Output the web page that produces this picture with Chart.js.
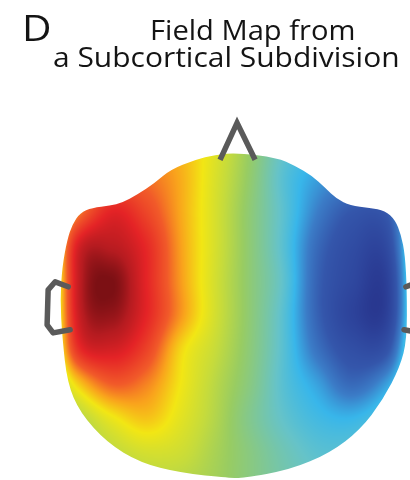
<!DOCTYPE html>
<html>
<head>
<meta charset="utf-8">
<script src="https://cdn.jsdelivr.net/npm/chart.js@4.4.1/dist/chart.umd.min.js"></script>
<style>
  html, body { margin: 0; padding: 0; background: #ffffff; }
  #wrap { position: relative; width: 410px; height: 480px; overflow: hidden; }
  #map { position: absolute; left: 0; top: 0; }
  .txt { position: absolute; white-space: nowrap; font-family: "Open Sans", "Noto Sans", sans-serif; color: #141414; line-height: 1; transform-origin: 0 0; }
  #panel { left: 22px; top: 8px; font-size: 37px; transform: scaleX(1.1); }
  #t1 { left: 150px; top: 15px; font-size: 28px; font-weight: 500; transform: scaleX(1.04); }
  #t2 { left: 53px; top: 42px; font-size: 28px; font-weight: 500; transform: scaleX(1.07); }
</style>
</head>
<body>
<div id="wrap">
  <canvas id="map" width="410" height="480"></canvas>
  <div class="txt" id="panel">D</div>
  <div class="txt" id="t1">Field Map from</div>
  <div class="txt" id="t2">a Subcortical Subdivision</div>
</div>
<script>
// Sensor grid (head units: 1 = head radius), columns left→right, rows top→bottom
const gridU = [-1.1, -0.9, -0.7, -0.5, -0.3, -0.1, 0.1, 0.3, 0.5, 0.7, 0.9, 1.1];
const gridV = [1.0, 0.8, 0.6, 0.4, 0.2, 0.0, -0.2, -0.4, -0.6, -0.8, -1.0];

// Normalised field values along each grid row (+ = red, − = blue)
const fieldV100 = [0.0, 0.10, 0.30, 0.35, 0.30, 0.14, -0.08, -0.32, -0.40, -0.45, -0.40, -0.25];
const fieldV080 = [0.0, 0.20, 0.45, 0.45, 0.33, 0.12, -0.10, -0.36, -0.50, -0.55, -0.50, -0.30];
const fieldV060 = [-0.10, 0.40, 0.72, 0.58, 0.34, 0.11, -0.12, -0.35, -0.58, -0.72, -0.70, -0.20];
const fieldV040 = [-0.30, 0.75, 0.86, 0.70, 0.36, 0.11, -0.12, -0.36, -0.65, -0.80, -0.82, -0.10];
const fieldV020 = [-0.35, 0.80, 1.00, 0.72, 0.37, 0.10, -0.12, -0.34, -0.68, -0.84, -0.90, -0.10];
const fieldV000 = [-0.35, 0.78, 0.95, 0.72, 0.38, 0.10, -0.12, -0.36, -0.68, -0.88, -0.90, -0.10];
const fieldVm020 = [-0.30, 0.65, 0.78, 0.60, 0.24, 0.06, -0.13, -0.36, -0.62, -0.78, -0.75, -0.10];
const fieldVm040 = [-0.20, 0.25, 0.50, 0.42, 0.20, 0.02, -0.15, -0.36, -0.50, -0.65, -0.50, -0.15];
const fieldVm060 = [-0.10, 0.00, 0.18, 0.28, 0.15, 0.00, -0.18, -0.33, -0.42, -0.45, -0.35, -0.20];
const fieldVm080 = [-0.10, -0.05, 0.03, 0.10, 0.08, -0.03, -0.15, -0.27, -0.35, -0.35, -0.30, -0.20];
const fieldVm100 = [-0.10, -0.10, -0.05, 0.00, 0.00, -0.05, -0.15, -0.25, -0.30, -0.30, -0.25, -0.20];
const fieldRows = [fieldV100, fieldV080, fieldV060, fieldV040, fieldV020, fieldV000,
                   fieldVm020, fieldVm040, fieldVm060, fieldVm080, fieldVm100];

// Scalp outline, nose and ears (head units)
const headOutline = [
  [0.029, 0.942], [0.262, 0.913], [0.366, 0.866], [0.465, 0.808], [0.541, 0.738],
  [0.610, 0.674], [0.686, 0.634], [0.802, 0.622], [0.890, 0.605], [0.948, 0.552],
  [0.983, 0.465], [1.006, 0.349], [1.017, 0.145], [1.017, -0.145], [0.977, -0.302],
  [0.878, -0.494], [0.744, -0.669], [0.570, -0.802], [0.337, -0.901], [0.064, -0.948],
  [-0.012, -0.948], [-0.302, -0.919], [-0.535, -0.860], [-0.727, -0.744], [-0.884, -0.570],
  [-0.959, -0.395], [-0.988, -0.128], [-1.000, 0.087], [-0.988, 0.279], [-0.959, 0.436],
  [-0.930, 0.523], [-0.884, 0.593], [-0.814, 0.622], [-0.709, 0.634], [-0.640, 0.651],
  [-0.552, 0.698], [-0.448, 0.767], [-0.360, 0.843], [-0.215, 0.901], [-0.099, 0.930]
];
const noseLine = [[-0.070, 0.901], [0.029, 1.116], [0.134, 0.901]];
const leftEar = [[-0.953, 0.163], [-1.029, 0.192], [-1.070, 0.145], [-1.076, -0.058], [-1.041, -0.105], [-0.942, -0.087]];
const rightEar = [[1.011, 0.163], [1.087, 0.192], [1.128, 0.145], [1.134, -0.058], [1.099, -0.105], [1.000, -0.087]];

// Jet-like colour scale used for the field
const colorStops = [
  [-1.00, '#27348c'], [-0.88, '#2d439b'], [-0.72, '#3456ab'], [-0.58, '#3b7cc7'],
  [-0.45, '#38b6ea'], [-0.32, '#66c3c8'], [-0.20, '#7fc795'], [-0.08, '#98cc62'],
  [0.05, '#c5db3c'], [0.20, '#f2e614'], [0.35, '#f9a31c'], [0.50, '#f15a29'],
  [0.72, '#e42326'], [0.88, '#b51b20'], [1.00, '#7c1014']
];

const stopRGB = colorStops.map(([v, hex]) => [v, parseInt(hex.slice(1, 3), 16), parseInt(hex.slice(3, 5), 16), parseInt(hex.slice(5, 7), 16)]);
function colorFor(val) {
  if (val <= stopRGB[0][0]) return stopRGB[0].slice(1);
  for (let k = 1; k < stopRGB.length; k++) {
    const b = stopRGB[k];
    if (val <= b[0]) {
      const a = stopRGB[k - 1];
      const t = (val - a[0]) / (b[0] - a[0]);
      return [a[1] + (b[1] - a[1]) * t, a[2] + (b[2] - a[2]) * t, a[3] + (b[3] - a[3]) * t];
    }
  }
  return stopRGB[stopRGB.length - 1].slice(1);
}

function toPoints(list) { return list.map(([x, y]) => ({ x, y })); }

// Grid nodes as a dataset; the surface below is shaded from these
const fieldNodes = [];
gridV.forEach((v, j) => gridU.forEach((u, i) => fieldNodes.push({ x: u, y: v, value: fieldRows[j][i] })));

function catmull(p0, p1, p2, p3, t) {
  return 0.5 * ((2 * p1) + (-p0 + p2) * t + (2 * p0 - 5 * p1 + 4 * p2 - p3) * t * t + (-p0 + 3 * p1 - 3 * p2 + p3) * t * t * t);
}

function makeSampler(nodes) {
  const nu = gridU.length, nv = gridV.length;
  const val = (i, j) => {
    i = Math.max(0, Math.min(nu - 1, i));
    j = Math.max(0, Math.min(nv - 1, j));
    return nodes[j * nu + i].value;
  };
  const u0 = gridU[0], du = gridU[1] - gridU[0];
  const v0 = gridV[0], dv = gridV[1] - gridV[0];
  return (u, v) => {
    const fi = Math.max(0, Math.min(nu - 1.0001, (u - u0) / du));
    const fj = Math.max(0, Math.min(nv - 1.0001, (v - v0) / dv));
    const i = Math.floor(fi), j = Math.floor(fj);
    const tx = fi - i, ty = fj - j;
    const rows = [];
    for (let m = -1; m <= 2; m++) {
      rows.push(catmull(val(i - 1, j + m), val(i, j + m), val(i + 1, j + m), val(i + 2, j + m), tx));
    }
    const r = catmull(rows[0], rows[1], rows[2], rows[3], ty);
    return Math.max(-1, Math.min(1, r));
  };
}

function outlinePath(ctx, xs, ys, pts) {
  const P = pts.map(([u, v]) => [xs.getPixelForValue(u), ys.getPixelForValue(v)]);
  const n = P.length;
  const mid = (a, b) => [(a[0] + b[0]) / 2, (a[1] + b[1]) / 2];
  ctx.beginPath();
  let m = mid(P[n - 1], P[0]);
  ctx.moveTo(m[0], m[1]);
  for (let k = 0; k < n; k++) {
    const c = P[k], nm = mid(P[k], P[(k + 1) % n]);
    ctx.quadraticCurveTo(c[0], c[1], nm[0], nm[1]);
  }
  ctx.closePath();
}

const fieldMapPlugin = {
  id: 'fieldMap',
  beforeDatasetsDraw(chart) {
    const { ctx, chartArea: a, scales: { x, y } } = chart;
    const nodes = chart.data.datasets.find(d => d.label === 'field').data;
    const sample = makeSampler(nodes);
    const w = Math.round(a.right - a.left), h = Math.round(a.bottom - a.top);
    const off = document.createElement('canvas');
    off.width = w; off.height = h;
    const octx = off.getContext('2d');
    const img = octx.createImageData(w, h);
    for (let j = 0; j < h; j++) {
      const v = y.getValueForPixel(a.top + j + 0.5);
      for (let i = 0; i < w; i++) {
        const u = x.getValueForPixel(a.left + i + 0.5);
        const c = colorFor(sample(u, v));
        const k = (j * w + i) * 4;
        img.data[k] = c[0]; img.data[k + 1] = c[1]; img.data[k + 2] = c[2]; img.data[k + 3] = 255;
      }
    }
    octx.putImageData(img, 0, 0);
    ctx.save();
    outlinePath(ctx, x, y, headOutline);
    ctx.clip();
    ctx.drawImage(off, a.left, a.top);
    ctx.restore();
  }
};

const strokeStyle = { showLine: true, borderColor: '#5a5a5a', borderWidth: 5.5, pointRadius: 0, fill: false };

new Chart(document.getElementById('map'), {
  type: 'scatter',
  data: {
    datasets: [
      { label: 'field', data: fieldNodes, pointRadius: 0, showLine: false },
      Object.assign({ label: 'nose', data: toPoints(noseLine), borderJoinStyle: 'miter', borderCapStyle: 'butt' }, strokeStyle),
      Object.assign({ label: 'left ear', data: toPoints(leftEar), borderJoinStyle: 'round', borderCapStyle: 'round' }, strokeStyle),
      Object.assign({ label: 'right ear', data: toPoints(rightEar), borderJoinStyle: 'round', borderCapStyle: 'round' }, strokeStyle)
    ]
  },
  options: {
    responsive: false,
    animation: false,
    devicePixelRatio: 1,
    layout: { padding: 0 },
    plugins: { legend: { display: false }, tooltip: { enabled: false }, title: { display: false } },
    elements: { line: { tension: 0 } },
    scales: {
      x: { type: 'linear', min: -1.35, max: 1.035, display: false },
      y: { type: 'linear', min: -0.96, max: 1.83, display: false }
    }
  },
  plugins: [fieldMapPlugin]
});
</script>
</body>
</html>
